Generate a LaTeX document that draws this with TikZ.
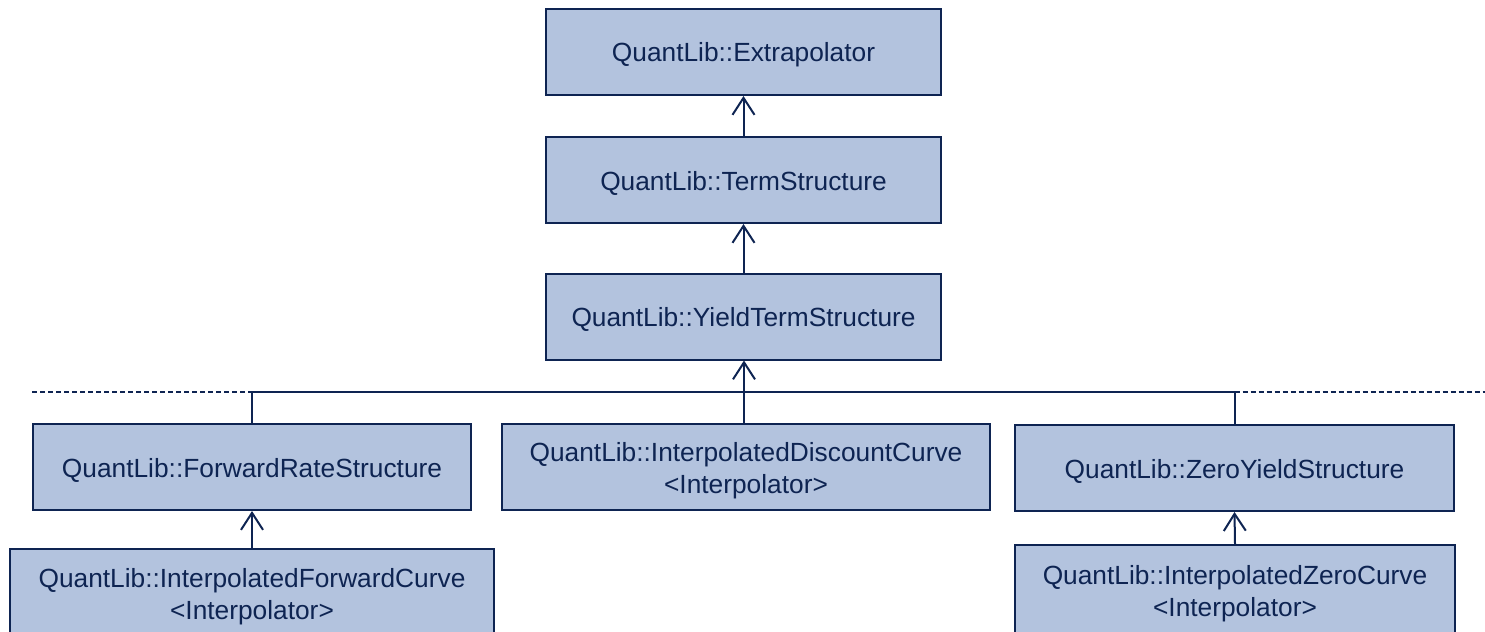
\documentclass[tikz,border=0pt]{standalone}
\usepackage{fontspec}
\setmainfont{Liberation Sans}
\usetikzlibrary{arrows.meta}
\definecolor{boxfill}{RGB}{179,195,222}
\definecolor{ink}{RGB}{14,36,82}
\tikzset{
  clsfont/.style={text=ink, align=center, inner sep=0pt,
    font=\fontsize{26.3bp}{32bp}\selectfont},
  cls/.style={draw=ink, fill=boxfill, line width=2bp, clsfont,
    execute at begin node={\rule{0pt}{25bp}}},
  % box whose (two-line) name is set as a centred label, lowered by #1
  tcls/.style 2 args={draw=ink, fill=boxfill, line width=2bp, inner sep=0pt,
    label={[clsfont, yshift=-#1]center:{#2}}},
  link/.style={draw=ink, line width=2bp},
  inherit/.style={link, -{Straight Barb[length=17bp,width=22bp,line width=2bp]}},
  guide/.style={draw=ink, line width=1.3bp, dash pattern=on 5bp off 3bp}
}
\begin{document}
\begin{tikzpicture}[x=1bp,y=-1bp]
  \useasboundingbox (0,0) rectangle (1485,632);
  \clip (0,0) rectangle (1485,632);

  % class boxes
  \node[cls, minimum width=395bp, minimum height=86bp] (ex)  at (743.5,52)  {QuantLib::Extrapolator};
  \node[cls, minimum width=395bp, minimum height=86bp] (ts)  at (743.5,180) {QuantLib::TermStructure};
  \node[cls, minimum width=395bp, minimum height=86bp] (yts) at (743.5,316.5) {QuantLib::YieldTermStructure};
  \node[cls, minimum width=438bp, minimum height=86bp] (fwd) at (252,467)   {QuantLib::ForwardRateStructure};
  \node[tcls={4bp}{QuantLib::InterpolatedDiscountCurve\\\textless Interpolator\textgreater},
        minimum width=488bp, minimum height=86bp] (dsc) at (746,467) {};
  \node[cls, minimum width=439bp, minimum height=86bp] (zys) at (1234.5,468) {QuantLib::ZeroYieldStructure};
  \node[tcls={2bp}{QuantLib::InterpolatedForwardCurve\\\textless Interpolator\textgreater},
        minimum width=484bp, minimum height=92bp] (ifc) at (252,595) {};
  \node[tcls={3bp}{QuantLib::InterpolatedZeroCurve\\\textless Interpolator\textgreater},
        minimum width=440bp, minimum height=92bp] (izc) at (1235,591) {};

  % junction of the inheritance tree and ends of the dashed rule
  \coordinate (jn) at (744,392);
  \coordinate (dl) at (32,392);
  \coordinate (dr) at (1485,392);

  % dashed rule
  \draw[guide] (dl) -- (fwd.north |- jn);
  \draw[guide] (zys.north |- jn) -- (dr);

  % inheritance connectors
  \draw[inherit] (ts.north) -- (ex.south);
  \draw[inherit] (yts.north) -- (ts.south);
  \draw[link] (fwd.north) |- (jn) -| (zys.north);
  \draw[inherit] (dsc.north -| jn) -- (yts.south -| jn);
  \draw[inherit] (ifc.north) -- (fwd.south);
  \draw[inherit] (izc.north) -- (zys.south);
\end{tikzpicture}
\end{document}
